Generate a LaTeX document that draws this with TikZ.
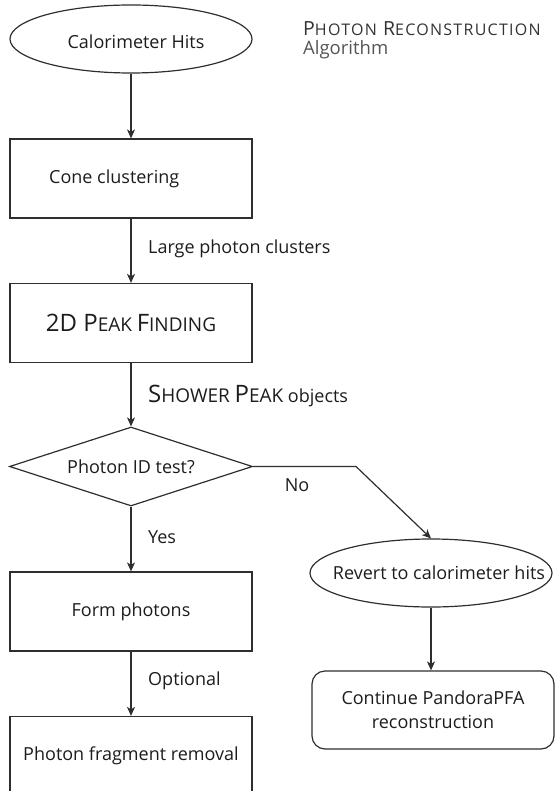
\documentclass[tikz,border=0pt]{standalone}
\usepackage{fontspec}
\setmainfont{Open Sans}
\usetikzlibrary{shapes.geometric,arrows.meta}

\definecolor{inkline}{HTML}{2E2E2E}
\definecolor{inktext}{HTML}{1C1C1C}
\definecolor{titlegrey}{HTML}{333333}
\definecolor{subgrey}{HTML}{555555}

% body text size and faked small caps
\newcommand{\bodysize}{\fontsize{18}{24}\selectfont}
\newcommand{\scbig}[2]{{\fontsize{#1}{#1}\selectfont #2}}

\begin{document}
\begin{tikzpicture}[x=1pt,y=-1pt,
  every node/.style={text=inktext, font=\bodysize},
  line/.style={draw=inkline, line width=1.2pt},
  arr/.style={line, -{Stealth[length=9pt,width=8pt,inset=2.5pt]}},
  termell/.style={line, ellipse, minimum width=242pt, minimum height=68pt, inner sep=0pt},
  procbox/.style={line, rectangle, minimum width=242pt, minimum height=79pt, inner sep=0pt},
  decision/.style={line, diamond, aspect=3.08, minimum width=243pt, minimum height=79pt, inner sep=0pt},
  roundbox/.style={line, rectangle, rounded corners=13pt, minimum width=242pt, minimum height=78pt, inner sep=0pt, align=center},
  lbl/.style={inner sep=0pt}
]
\useasboundingbox (0,0) rectangle (555,791);
\clip (0,0) rectangle (555,791);

% title, spaced-out small capitals
\node[lbl, anchor=base west, text=titlegrey] (title) at (303,36)
  {\addfontfeature{LetterSpace=8}\scbig{19.5}{P}\scbig{16}{HOTON} \scbig{19.5}{R}\scbig{16}{ECONSTRUCTION}};
\node[lbl, anchor=base west, text=subgrey, font=\fontsize{18.5}{20}\selectfont] (subtitle) at (303,55) {Algorithm};

% main column
\node[termell] (hits) at (131,39) {};
\node[lbl] (hitstxt) at (136,42) {Calorimeter Hits};
\node[procbox] (cone) at (131,178.5) {};
\node[lbl, anchor=west] (conetxt) at (49,179) {Cone clustering};
\node[procbox] (peak) at (131,323)
  {\scbig{24}{2D P}\scbig{19}{EAK} \scbig{24}{F}\scbig{19}{INDING}};
\node[decision] (idtest) at (131,466.5) {Photon ID test?};
\node[procbox] (form) at (131,611.5) {Form photons};
\node[procbox] (frag) at (131,756) {Photon fragment removal};

% side branch
\node[termell] (revert) at (431,573) {};
\node[lbl] (reverttxt) at (439,573) {Revert to calorimeter hits};
\node[roundbox] (cont) at (433,710) {Continue PandoraPFA\\reconstruction};
\coordinate (bend) at (356,466.5);

% connectors
\draw[arr] (hits) -- (cone);
\draw[arr] (cone) -- (peak);
\draw[arr] (peak) -- (idtest);
\draw[arr] (idtest) -- (form);
\draw[arr] (form) -- (frag);
\draw[arr] (idtest.east) -- (bend) -- (revert.north);
\draw[arr] (revert.south) -- (revert.south |- cont.north);

% connector labels
\node[lbl, anchor=west] (lclusters) at (148,249) {Large photon clusters};
\node[lbl, anchor=west] (lpeaks) at (148,396)
  {\scbig{24}{S}\scbig{19}{HOWER} \scbig{24}{P}\scbig{19}{EAK} objects};
\node[lbl, anchor=west] (lyes) at (148,537) {Yes};
\node[lbl, anchor=west] (lopt) at (148,681) {Optional};
\node[lbl] (lno) at (297,485) {No};
\end{tikzpicture}
\end{document}
